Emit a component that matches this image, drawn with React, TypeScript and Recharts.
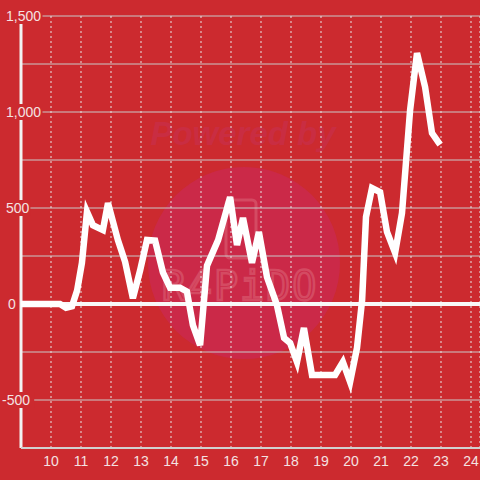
import React from 'react';
import { LineChart, Line, XAxis, YAxis, CartesianGrid, ReferenceLine } from 'recharts';

const xValues = [9.0, 10.3, 10.5, 10.7, 10.87, 11.03, 11.2, 11.4, 11.73, 11.9, 12.23, 12.47, 12.73, 12.97, 13.2, 13.47, 13.73, 13.97, 14.3, 14.53, 14.73, 14.97, 15.2, 15.57, 15.97, 16.2, 16.4, 16.7, 16.93, 17.2, 17.53, 17.77, 17.97, 18.2, 18.43, 18.7, 19.47, 19.73, 19.97, 20.2, 20.37, 20.5, 20.7, 20.97, 21.2, 21.47, 21.7, 21.97, 22.2, 22.47, 22.7, 22.97];
const yValues = [0, 0, -20, -12, 70, 213, 480, 410, 385, 525, 333, 220, 30, 175, 333, 330, 165, 85, 85, 65, -110, -215, 200, 333, 557, 307, 448, 214, 375, 140, -5, -177, -203, -302, -125, -370, -370, -302, -406, -229, 20, 453, 604, 583, 375, 266, 474, 1010, 1307, 1130, 890, 830];
const xTicks = [10, 11, 12, 13, 14, 15, 16, 17, 18, 19, 20, 21, 22, 23, 24];
const yTicks = [-750, -500, -250, 0, 250, 500, 750, 1000, 1250, 1500];
const yLabelled = [-500, 0, 500, 1000, 1500];

const data = xValues.map((x, i) => ({ x, y: yValues[i] }));

const BG = '#cc2a2f';
const LABEL = '#f4e2e2';

const fmt = (v: number) => v.toLocaleString('en-US');

const YTick = (props: any) => {
  const { y, payload } = props;
  const v = payload.value;
  if (!yLabelled.includes(v)) return <g />;
  const s = fmt(v);
  const startX = v < 0 ? 2 : v === 0 ? 8 : 6;
  const w = s.length * 7.8 - (s.includes(',') ? 3.5 : 0);
  return (
    <g>
      <rect x={startX - 1} y={y - 8} width={w + 2} height={16} fill={BG} />
      <text x={startX} y={y} dy={5} textAnchor="start" fill={LABEL} fontSize={14} fontFamily="'Liberation Sans', Arial, sans-serif">
        {s}
      </text>
    </g>
  );
};

const XTick = (props: any) => {
  const { x, payload } = props;
  return (
    <text x={x} y={466} textAnchor="middle" fill={LABEL} fontSize={14} fontFamily="'Liberation Sans', Arial, sans-serif">
      {payload.value}
    </text>
  );
};

export default function App() {
  return (
    <div style={{ position: 'fixed', left: 0, top: 0, width: 480, height: 480, background: BG, overflow: 'hidden' }}>
      <svg width={480} height={480} style={{ position: 'absolute', left: 0, top: 0 }}>
        <text x={243} y={145} textAnchor="middle" fontSize={33} fontWeight="bold" fontStyle="italic" fill="#c92d42" fontFamily="'Liberation Sans', Arial, sans-serif">
          Powered by
        </text>
        <circle cx={244} cy={263} r={96} fill="#cb2948" />
        <rect x={226} y={200} width={30} height={58} rx={4} fill="none" stroke="#d44a62" strokeWidth={3} />
        <text x={240} y={300} textAnchor="middle" fontSize={40} fill="none" stroke="#d44a62" strokeWidth={2.5} letterSpacing={2} fontFamily="'DejaVu Sans Mono', monospace">
          R4PiDO
        </text>
      </svg>
      <div style={{ position: 'absolute', left: 0, top: 0 }}>
        <LineChart width={480} height={480} data={data} margin={{ top: 16, right: 0, bottom: 0, left: 0 }}>
          <CartesianGrid vertical={false} stroke="#c9c9c9" strokeWidth={1} />
          <CartesianGrid horizontal={false} stroke="#e6e6e6" strokeDasharray="2 3" strokeWidth={1} />
          <XAxis
            dataKey="x"
            type="number"
            domain={[9, 24.3]}
            ticks={xTicks}
            height={32}
            tickLine={false}
            axisLine={{ stroke: '#d0d0d0', strokeWidth: 2 }}
            tick={<XTick />}
            interval={0}
            allowDataOverflow
          />
          <YAxis
            type="number"
            domain={[-750, 1500]}
            ticks={yTicks}
            width={21}
            axisLine={false}
            tickLine={false}
            tick={<YTick />}
            interval={0}
            allowDataOverflow
          />
          <ReferenceLine x={9} stroke="#f2f2f2" strokeWidth={3} />
          <ReferenceLine y={0} stroke="#f8f8f8" strokeWidth={4} />
          <Line type="linear" dataKey="y" stroke="#ffffff" strokeWidth={6.5} dot={false} isAnimationActive={false} />
        </LineChart>
      </div>
    </div>
  );
}
